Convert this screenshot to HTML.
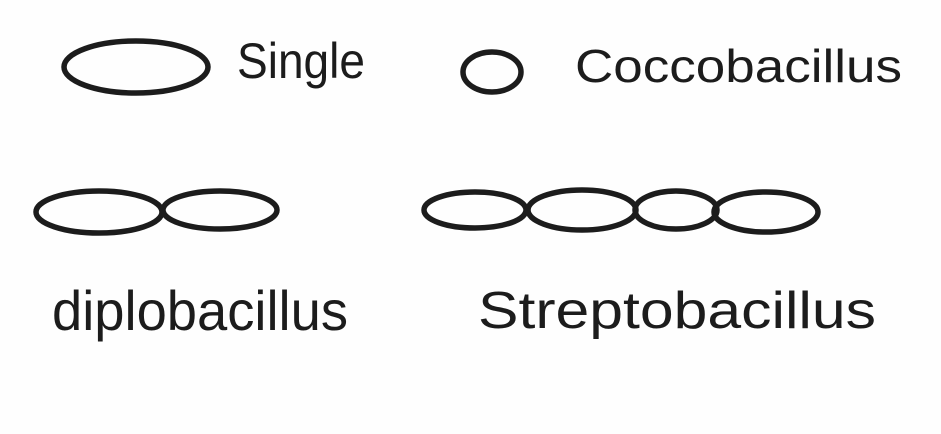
<!DOCTYPE html>
<html><head><meta charset="utf-8">
<style>
html,body{margin:0;padding:0;background:#fefefe;}
svg{display:block;}
text{font-family:"Liberation Sans Narrow","Liberation Sans",sans-serif;fill:#1c1c1c;}
</style></head>
<body>
<svg width="941" height="434" viewBox="0 0 941 434">
<rect width="941" height="434" fill="#fefefe"/>
<g fill="none" stroke="#1c1c1c" stroke-width="5.5">
  <ellipse cx="136" cy="67" rx="72" ry="26"/>
  <ellipse cx="492" cy="72" rx="29" ry="20"/>
  <ellipse cx="99" cy="212" rx="63" ry="21"/>
  <ellipse cx="220" cy="210" rx="57" ry="19"/>
  <ellipse cx="475" cy="210" rx="51" ry="18"/>
  <ellipse cx="582" cy="210" rx="54" ry="20"/>
  <ellipse cx="676" cy="210" rx="41" ry="19"/>
  <ellipse cx="766" cy="212" rx="52" ry="20"/>
</g>
<text x="237" y="78" font-size="50" textLength="128" lengthAdjust="spacingAndGlyphs">Single</text>
<text x="575" y="82" font-size="46" textLength="327" lengthAdjust="spacingAndGlyphs">Coccobacillus</text>
<text x="52" y="330" font-size="56" textLength="296" lengthAdjust="spacingAndGlyphs">diplobacillus</text>
<text x="478" y="328" font-size="52" textLength="398" lengthAdjust="spacingAndGlyphs">Streptobacillus</text>
</svg>
</body></html>
